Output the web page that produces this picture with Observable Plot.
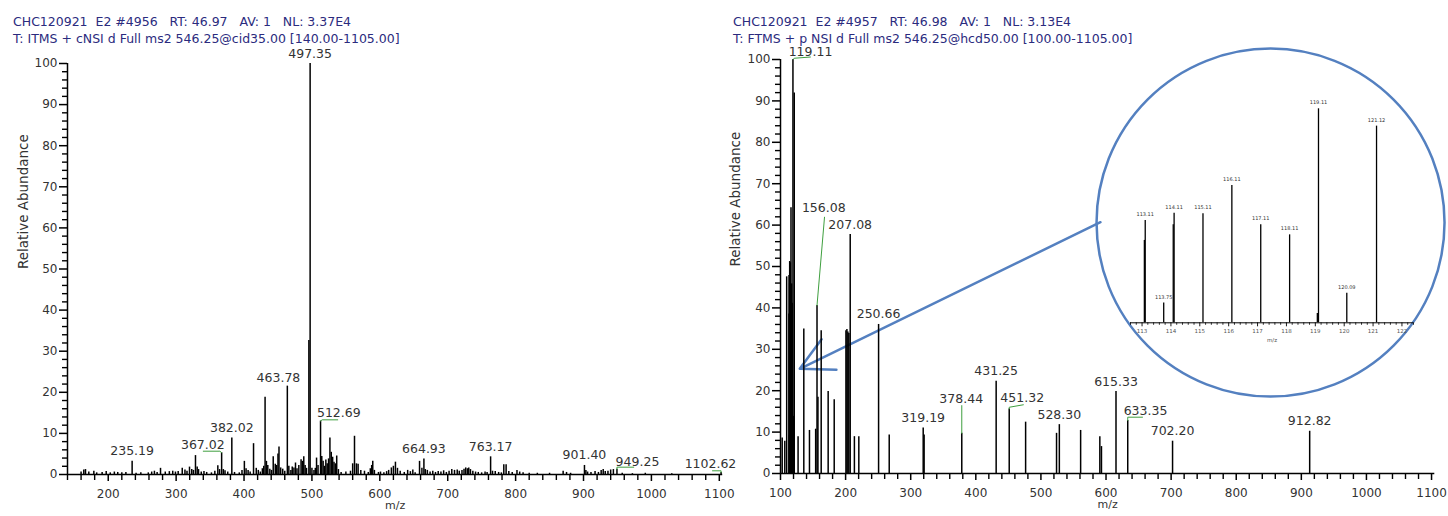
<!DOCTYPE html>
<html><head><meta charset="utf-8">
<script src="https://cdn.jsdelivr.net/npm/d3@7"></script>
<script src="https://cdn.jsdelivr.net/npm/@observablehq/plot@0.6"></script>
<style>
body{margin:0;background:#fff;}
#wrap{position:relative;width:1448px;height:516px;overflow:hidden;font-family:"DejaVu Sans",sans-serif;}
.title{position:absolute;top:13px;white-space:pre;color:#2b2b7e;font-size:12.5px;line-height:17px;z-index:5;}
.panel{position:absolute;top:0;}
.panel svg{overflow:visible;}
</style></head><body><div id="wrap">
<div class="title" id="tl" style="left:13px"></div>
<div class="title" id="tr" style="left:733px"></div>
<div class="panel" id="pl" style="left:0"></div>
<div class="panel" id="pr" style="left:724px"></div>
<div class="panel" id="pi" style="left:1120px;top:90px"></div>
</div>
<script>
// ---------- text ----------
const leftTitle = ["CHC120921  E2 #4956   RT: 46.97   AV: 1   NL: 3.37E4",
                   "T: ITMS + cNSI d Full ms2 546.25@cid35.00 [140.00-1105.00]"];
const rightTitle = ["CHC120921  E2 #4957   RT: 46.98   AV: 1   NL: 3.13E4",
                    "T: FTMS + p NSI d Full ms2 546.25@hcd50.00 [100.00-1105.00]"];
const yLabel = "Relative Abundance";
const xLabel = "m/z";

// ---------- ticks ----------
const yTicks = [0,10,20,30,40,50,60,70,80,90,100];
const leftXTicks = [200,300,400,500,600,700,800,900,1000,1100];
const rightXTicks = [100,200,300,400,500,600,700,800,900,1000,1100];
const insetXTicks = [113,114,115,116,117,118,119,120,121,122];

// ---------- left spectrum (ion trap, cid) [m/z, relative abundance] ----------
const leftPeaks = [
 [160,0.6],[164,1.1],[166.5,1.2],[171.4,0.6],[178.8,0.8],[183,0.4],[191,0.5],[197,0.7],[203,0.4],[209,0.6],
 [214,0.5],[220,0.4],[226,0.5],[235.19,3.2],[241,0.3],[248,0.4],[259,0.4],[264,0.6],[268,0.8],[272,0.5],
 [277,1.5],[284,0.6],[290,0.7],[295,0.8],[299,0.6],[303,0.7],[309,1.5],[313,1.1],[316,0.8],[319.7,1.8],
 [323,1.2],[325.5,1.0],[328.5,4.6],[331,1.8],[333,1.2],[337,0.6],[341,0.7],[345,0.5],[352,0.4],[357,0.8],
 [361.4,2.1],[364,1.2],[367.02,5.3],[369.5,1.2],[372,0.9],[376,0.6],[382.02,8.9],[386,0.5],[393,0.4],[397,1.0],
 [400.5,3.2],[403,1.4],[406,1.0],[409,0.6],[414,7.5],[418,1.5],[421,1.0],[424,0.6],[427,1.4],[429,2.0],
 [431,18.8],[433,3.2],[435,2.2],[438,1.3],[440.5,1.0],[443,4.3],[446,2.5],[448,2.2],[450,5.0],[451.5,6.7],
 [454,1.6],[457,1.3],[460,0.8],[463.78,21.5],[466,2.0],[469,1.0],[471,1.8],[473.5,1.6],[475.8,2.8],[478,1.4],
 [480.7,2.2],[484,3.6],[486,3.2],[488,4.3],[490,2.2],[492,1.5],[495.5,32.6],[497.35,100],[500,1.5],[503,1.0],
 [505,1.5],[506.8,4.0],[509,2.2],[512.69,13],[514.5,4.4],[516.5,3.2],[518.5,2.0],[520.5,3.5],[522.5,2.6],[524.5,3.8],
 [526.5,8.9],[528.5,5.4],[530.5,4.2],[532.5,3.0],[534.5,2.6],[536.5,4.5],[539,1.2],[543,0.5],[550,0.6],[556.8,0.8],
 [560,2.6],[562.7,9.3],[565.5,2.6],[568,2.5],[572,1.0],[577.4,0.8],[583,0.5],[586,1.4],[588,2.2],[589.6,3.2],
 [592,1.0],[598,0.5],[601,0.6],[606,0.4],[610,0.7],[613,1.0],[617,1.6],[620,2.0],[623,3.0],[626,1.5],
 [630,0.8],[636,0.5],[641,1.0],[645,0.7],[648.6,1.1],[652,0.4],[658.5,3.2],[662,1.5],[664.93,3.8],[667,1.2],
 [670,1.0],[674,0.6],[678,0.8],[682,0.5],[686,0.7],[690,0.6],[694,0.9],[698,0.5],[702,0.8],[706,1.2],
 [710,1.0],[714,1.1],[717,0.8],[721,1.0],[724,1.3],[726.5,1.6],[729,1.4],[731,1.6],[733.5,1.2],[737,0.8],
 [741,0.6],[745,0.5],[750,0.4],[755,0.6],[758,0.5],[763.17,4.3],[766,0.8],[770,0.7],[775,0.5],[779,0.4],
 [782.6,2.4],[786,2.4],[790,0.7],[795,0.5],[802,1.0],[806,0.6],[811,0.4],[820,0.3],[832,0.3],[850,0.3],
 [870,0.8],[875,0.5],[881,0.3],[901.40,2.2],[903.5,1.0],[906,0.6],[911,0.5],[917,0.7],[922,0.5],[926,1.0],
 [929,1.2],[932,0.7],[936,0.8],[940,1.1],[944,1.2],[949.25,1.3],[957,0.3],[972,0.2],[991,0.3],[1030,0.2],
 [1102.62,0.5]
];
// ---------- right spectrum (orbitrap, hcd) [m/z, relative abundance] ----------
const rightPeaks = [
 [102.6,8.6],[106.6,7.8],[109.5,47.5],[113.08,38.5],[113.11,47.8],[113.75,9.2],[114.08,45.8],[114.11,51.2],
 [115.11,50.9],[116.11,64.2],[117.11,45.8],[118.11,41.1],[119.07,4.3],[119.11,100],[120.09,13.8],[121.12,91.9],
 [127,8.9],[135.8,34.9],[144.5,10.4],[154,10.7],[156.08,40.6],[157.5,18.4],[162.5,34.5],[173.2,19.8],[182.5,17.8],
 [200.5,34.5],[202,34.8],[203.5,34.2],[205,33.8],[207.08,57.7],[213.5,8.9],[220.3,8.9],[250.66,36],[267,9.3],
 [319.19,11],[320.6,9.3],[378.44,9.7],[431.25,22.3],[451.32,15.6],[476.5,12.4],[524,9.7],[528.30,11.8],
 [561,10.4],[590.5,8.9],[593,6.5],[615.33,19.8],[633.35,12.8],[702.20,7.8],[912.82,10.2]
];

// ---------- peak labels ----------
const leftLabels = [235.19, 382.02, 497.35, 664.93, 763.17, 901.40];
const rightLabels = [207.08, 250.66, 319.19, 431.25, 528.30, 615.33, 702.20, 912.82];
const insetLabels = [113.11, 113.75, 114.11, 115.11, 116.11, 117.11, 118.11, 119.11, 120.09, 121.12];
// displaced labels: label centre and leader line, in data units
const leftCallouts = [
 {mz: 367.02, at: [339.3, 7.2], line: [[364.5, 5.67], [340, 5.67]]},
 {mz: 463.78, at: [450.7, 23.6], line: []},
 {mz: 512.69, at: [539.6, 14.9], line: [[515, 13.3], [538, 13.3]]},
 {mz: 949.25, at: [979.5, 3.16], line: [[949.25, 1.78], [974, 1.78]]},
 {mz: 1102.62, at: [1087, 2.6], line: [[1102.62, 0.9], [1090, 0.9]]}
];
const rightCallouts = [
 {mz: 119.11, at: [146.1, 101.8], line: [[121, 100.3], [146, 100.6]]},
 {mz: 156.08, at: [166.5, 64.1], line: [[167.6, 61.9]]},
 {mz: 378.44, at: [377.6, 17.9], line: [[378.44, 16.4]]},
 {mz: 451.32, at: [471.3, 18.3], line: [[451.32, 16.0], [473, 16.6]]},
 {mz: 633.35, at: [660.7, 15.0], line: [[633.35, 13.6], [656, 13.6]]}
];
// magnifier annotation (data units of the right spectrum)
const magnifier = [{mz: 852.7, ab: 60.6}];
const zoomArrow = [{x1: 591.5, y1: 60.7, x2: 129.6, y2: 25.3}];

// ---------- build ----------
const toRows = a => a.map(([mz, ab]) => ({mz, ab}));
const lookup = rows => mz => { const r = rows.find(r => Math.abs(r.mz - mz) < 1e-6); return r ? r.ab : 0; };
const fmt = d3.format("d");
const BLUE = "#5480c0", GREEN = "#3f9f3f", INK = "#333";
const W = 724, H = 516;

document.getElementById("tl").textContent = leftTitle.join("\n");
document.getElementById("tr").textContent = rightTitle.join("\n");

function spectrum({peaks, labels, callouts, xDomain, xTicks, margins, extra = [], yLabDx}) {
  const rows = toRows(peaks);
  const ab = lookup(rows);
  const {marginLeft: ml, marginRight: mr, marginTop: mt, marginBottom: mb} = margins;
  const kx = (W - ml - mr) / (xDomain[1] - xDomain[0]);   // px per m/z unit
  const ky = (H - mt - mb) / 100;                         // px per % unit
  const minorX = d3.range(Math.ceil(xDomain[0] / 20) * 20, xDomain[1], 20).filter(d => d % 100 !== 0);
  const minorY = d3.range(0, 101, 2).filter(d => d % 10 !== 0);
  const x0 = xDomain[0];
  const marks = [
    ...extra,
    Plot.ruleX(rows, {x: "mz", y1: 0, y2: "ab", stroke: "#000", strokeWidth: 1.5}),
    // axis lines
    Plot.ruleX([x0], {y1: 0, y2: 100, stroke: "#000", strokeWidth: 1.5}),
    Plot.ruleY([0], {x1: x0, x2: xDomain[1], stroke: "#000", strokeWidth: 1.5}),
    // tick marks
    Plot.ruleY(yTicks, {y: d => d, x1: x0, x2: x0 - 8 / kx, stroke: "#000", strokeWidth: 1.5}),
    Plot.ruleY(minorY, {y: d => d, x1: x0, x2: x0 - 5 / kx, stroke: "#000", strokeWidth: 1.4}),
    Plot.ruleX(xTicks, {x: d => d, y1: 0, y2: -7 / ky, stroke: "#000", strokeWidth: 1.5}),
    Plot.ruleX(minorX, {x: d => d, y1: 0, y2: -6 / ky, stroke: "#000", strokeWidth: 1.4}),
    // tick labels
    Plot.axisY(yTicks, {tickSize: 0, tickPadding: 10, label: null, fontSize: 12, color: INK}),
    Plot.axisX(xTicks, {tickSize: 0, tickPadding: 15, label: null, fontSize: 12, tickFormat: fmt, color: INK}),
    // peak labels
    Plot.text(labels, {x: d => d, y: d => ab(d), text: d => d.toFixed(2), dy: -10, lineAnchor: "middle", fontSize: 12.5, fill: INK}),
    Plot.text(callouts, {x: d => d.at[0], y: d => d.at[1], text: d => d.mz.toFixed(2), lineAnchor: "middle", fontSize: 12.5, fill: INK}),
    ...callouts.filter(c => c.line.length).map(c =>
      Plot.line([[c.mz, ab(c.mz)], ...c.line], {x: d => d[0], y: d => d[1], stroke: GREEN, strokeWidth: 1})),
    // axis titles
    Plot.text([yLabel], {frameAnchor: "left", dx: yLabDx, rotate: -90, fontSize: 13.5, fill: INK}),
    Plot.text([xLabel], {frameAnchor: "bottom", dy: 34, fontSize: 11, fill: INK})
  ];
  return Plot.plot({
    width: W, height: H, ...margins,
    x: {domain: xDomain, label: null, axis: null},
    y: {domain: [0, 100], label: null, axis: null},
    style: {fontFamily: "DejaVu Sans", fontSize: "12px", color: INK, background: "transparent", overflow: "visible", maxWidth: "none"},
    marks
  });
}

document.getElementById("pl").append(spectrum({
  peaks: leftPeaks, labels: leftLabels, callouts: leftCallouts,
  xDomain: [140, 1105], xTicks: leftXTicks, yLabDx: -44.3,
  margins: {marginLeft: 67, marginRight: 1.8, marginTop: 63, marginBottom: 42}
}));

document.getElementById("pr").append(spectrum({
  peaks: rightPeaks, labels: rightLabels, callouts: rightCallouts,
  xDomain: [100, 1105], xTicks: rightXTicks, yLabDx: -45,
  margins: {marginLeft: 56, marginRight: 13.7, marginTop: 59, marginBottom: 43},
  extra: [
    Plot.dot(magnifier, {x: "mz", y: "ab", r: 174, stroke: BLUE, strokeWidth: 2.5, fill: "none"}),
    Plot.arrow(zoomArrow, {x1: "x1", y1: "y1", x2: "x2", y2: "y2", stroke: BLUE, strokeWidth: 2.5, headLength: 22, headAngle: 55})
  ]
}));

// ---------- inset (zoom of 112.6–122.4) ----------
{
  const insetDomain = [112.6, 122.4];
  const rows = toRows(rightPeaks).filter(r => r.mz >= insetDomain[0] && r.mz <= insetDomain[1]);
  const ab = lookup(rows);
  const iw = 300, ih = 265, iml = 10, imr = 7, imt = 18.3, imb = 32.7;
  const ky = (ih - imt - imb) / 100;
  const minor = d3.range(1126, 1225, 2).map(d => d / 10).filter(d => Math.abs(d - Math.round(d)) > 1e-6);
  document.getElementById("pi").append(Plot.plot({
    width: iw, height: ih,
    marginLeft: iml, marginRight: imr, marginTop: imt, marginBottom: imb,
    x: {domain: insetDomain, label: null, axis: null},
    y: {domain: [0, 100], label: null, axis: null},
    style: {fontFamily: "DejaVu Sans", fontSize: "5px", color: INK, background: "transparent", overflow: "visible", maxWidth: "none"},
    marks: [
      Plot.ruleY([0], {stroke: "#000", strokeWidth: 1}),
      Plot.ruleX(rows, {x: "mz", y1: 0, y2: "ab", stroke: "#000", strokeWidth: 1.3}),
      Plot.ruleX(insetXTicks, {x: d => d, y1: 0, y2: -4 / ky, stroke: "#000", strokeWidth: 0.9}),
      Plot.ruleX(minor, {x: d => d, y1: 0, y2: -2.5 / ky, stroke: "#000", strokeWidth: 0.8}),
      Plot.axisX(insetXTicks, {tickSize: 0, tickPadding: 6, label: null, fontSize: 5.5, tickFormat: fmt, color: "#555"}),
      Plot.text(insetLabels, {x: d => d, y: d => ab(d), text: d => d.toFixed(2), dy: -6, lineAnchor: "middle", fontSize: 5, fill: INK}),
      Plot.text([xLabel], {frameAnchor: "bottom", dy: 19, fontSize: 5.5, fill: "#555"})
    ]
  }));
}
</script>
</body></html>
